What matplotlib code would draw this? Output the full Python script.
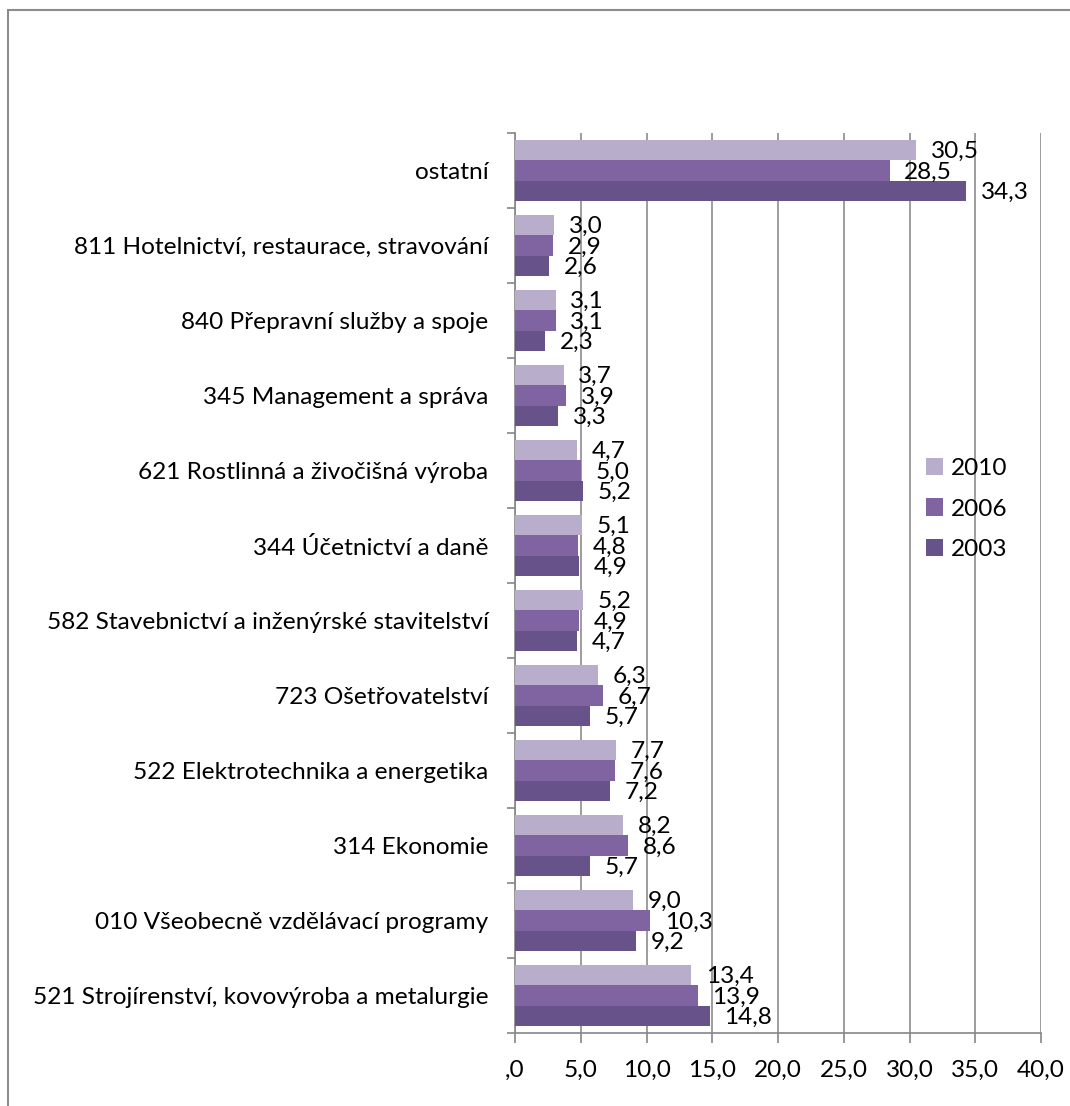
import matplotlib.pyplot as plt
import numpy as np
from matplotlib.patches import Rectangle

plt.rcParams['font.family'] = ['Lato', 'DejaVu Sans']

categories = [
    '521 Strojírenství, kovovýroba a metalurgie',
    '010 Všeobecně vzdělávací programy',
    '314 Ekonomie',
    '522 Elektrotechnika a energetika',
    '723 Ošetřovatelství',
    '582 Stavebnictví a inženýrské stavitelství',
    '344 Účetnictví a daně',
    '621 Rostlinná a živočišná výroba',
    '345 Management a správa',
    '840 Přepravní služby a spoje',
    '811 Hotelnictví, restaurace, stravování',
    'ostatní',
]
years = ['2010', '2006', '2003']
v2010 = [13.4, 9.0, 8.2, 7.7, 6.3, 5.2, 5.1, 4.7, 3.7, 3.1, 3.0, 30.5]
v2006 = [13.9, 10.3, 8.6, 7.6, 6.7, 4.9, 4.8, 5.0, 3.9, 3.1, 2.9, 28.5]
v2003 = [14.8, 9.2, 5.7, 7.2, 5.7, 4.7, 4.9, 5.2, 3.3, 2.3, 2.6, 34.3]
xticks = [0, 5, 10, 15, 20, 25, 30, 35, 40]
xticklabels = [',0', '5,0', '10,0', '15,0', '20,0', '25,0', '30,0', '35,0', '40,0']

colors = ['#b8aecb', '#8064a2', '#68528a']
series = [v2010, v2006, v2003]
fs = 17.6

fig = plt.figure(figsize=(10.7, 11.06), dpi=100)
ax = fig.add_axes([515 / 1070, 1 - 1033 / 1106, 526 / 1070, 900 / 1106])

# outer chart frame (cut off at right and bottom)
fig.patches.append(Rectangle((8 / 1070, -0.05), 1.2, 1 - 10 / 1106 + 0.05,
                             transform=fig.transFigure, fill=False,
                             edgecolor='#8c8c8c', linewidth=1.5))

y = np.arange(len(categories))
h = 0.27
offsets = [h, 0, -h]
for vals, col, off, yr in zip(series, colors, offsets, years):
    ax.barh(y + off, vals, height=h, color=col, label=yr, zorder=3)
    for yi, v in zip(y, vals):
        ax.annotate(f'{v:.1f}'.replace('.', ','), (v, yi + off),
                    xytext=(10.5, -1), textcoords='offset points',
                    ha='left', va='center', fontsize=fs, zorder=4)

ax.set_xlim(0, 40)
ax.set_ylim(-0.5, len(categories) - 0.5)
ax.set_xticks(xticks)
ax.set_xticklabels(xticklabels, fontsize=fs)
ax.set_yticks(y)
ax.set_yticklabels(categories, fontsize=fs)
ax.set_yticks(np.arange(-0.5, len(categories)), minor=True)
ax.tick_params(axis='y', which='major', length=0, pad=19)
ax.tick_params(axis='y', which='minor', length=6, color='#868686', width=1.2)
ax.tick_params(axis='x', length=7, color='#868686', width=1.2, pad=12)
ax.grid(axis='x', color='#8c8c8c', linewidth=1.2, zorder=0)
for s in ['top', 'right']:
    ax.spines[s].set_visible(False)
for s in ['left', 'bottom']:
    ax.spines[s].set_color('#868686')
    ax.spines[s].set_linewidth(1.2)

ax.legend(loc='upper left', bbox_to_anchor=(0.762, 0.65), frameon=False,
          fontsize=fs, handlelength=0.7, handleheight=0.7,
          labelspacing=0.8, handletextpad=0.35, borderaxespad=0)

fig.savefig('out.png', dpi=100)
